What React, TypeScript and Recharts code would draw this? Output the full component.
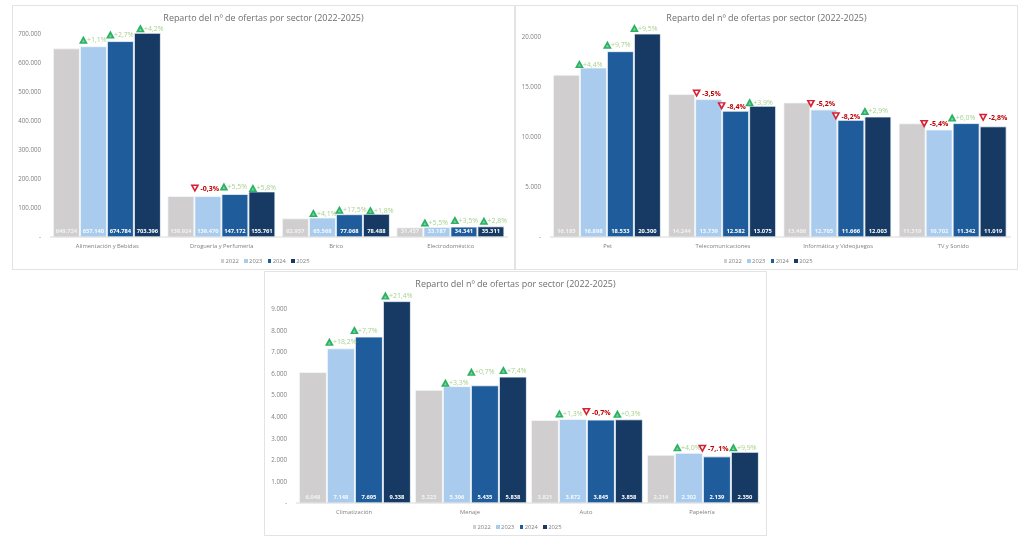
import { Bar, BarChart, LabelList, Legend, XAxis, YAxis } from "recharts";

const years = ["2022", "2023", "2024", "2025"];
const colors = ["#D0CECE", "#A9CBEE", "#1F5C9B", "#163A63"];
const valueColors = ["#F2F2F2", "#F4F8FD", "#FFFFFF", "#FFFFFF"];
const title = "Reparto del nº de ofertas por sector (2022-2025)";

const categoriesA = ["Alimentación y Bebidas", "Droguería y Perfumería", "Brico", "Electrodoméstico"];
const valuesA2022 = [649724, 139924, 62957, 31457];
const valuesA2023 = [657140, 139470, 65568, 33187];
const valuesA2024 = [674784, 147172, 77068, 34341];
const valuesA2025 = [703396, 155761, 78488, 35311];
const changesA2023 = ["+1,1%", "-0,3%", "+4,1%", "+5,5%"];
const changesA2024 = ["+2,7%", "+5,5%", "+17,5%", "+3,5%"];
const changesA2025 = ["+4,2%", "+5,8%", "+1,8%", "+2,8%"];
const ticksA = [0, 100000, 200000, 300000, 400000, 500000, 600000, 700000];

const categoriesB = ["Pet", "Telecomunicaciones", "Informática y Videojuegos", "TV y Sonido"];
const valuesB2022 = [16185, 14244, 13406, 11319];
const valuesB2023 = [16898, 13739, 12705, 10702];
const valuesB2024 = [18533, 12582, 11666, 11342];
const valuesB2025 = [20300, 13075, 12003, 11019];
const changesB2023 = ["+4,4%", "-3,5%", "-5,2%", "-5,4%"];
const changesB2024 = ["+9,7%", "-8,4%", "-8,2%", "+6,0%"];
const changesB2025 = ["+9,5%", "+3,9%", "+2,9%", "-2,8%"];
const ticksB = [0, 5000, 10000, 15000, 20000];

const categoriesC = ["Climatización", "Menaje", "Auto", "Papelería"];
const valuesC2022 = [6048, 5223, 3821, 2214];
const valuesC2023 = [7148, 5396, 3872, 2302];
const valuesC2024 = [7695, 5435, 3845, 2139];
const valuesC2025 = [9338, 5838, 3858, 2350];
const changesC2023 = ["+18,2%", "+3,3%", "+1,3%", "+4,0%"];
const changesC2024 = ["+7,7%", "+0,7%", "-0,7%", "-7,.1%"];
const changesC2025 = ["+21,4%", "+7,4%", "+0,3%", "+9,9%"];
const ticksC = [0, 1000, 2000, 3000, 4000, 5000, 6000, 7000, 8000, 9000];

// hand placement of the change badges: [dx from bar left, dy from default]
const badgeNudge: Record<string, [number, number]> = {
  "Alimentación y Bebidas|2023": [3, 0],
  "Alimentación y Bebidas|2024": [3, 0],
  "Alimentación y Bebidas|2025": [6, 2],
  "Droguería y Perfumería|2023": [0, -1],
  "Droguería y Perfumería|2024": [2, -1],
  "Droguería y Perfumería|2025": [4, 3],
  "Brico|2023": [4, 2],
  "Brico|2024": [3, 2],
  "Brico|2025": [7, 3],
  "Electrodoméstico|2023": [1, 2],
  "Electrodoméstico|2024": [4, 0],
  "Electrodoméstico|2025": [6, 1],
  "Pet|2023": [-1, 3],
  "Pet|2024": [0, 0],
  "Pet|2025": [0, 1],
  "Telecomunicaciones|2023": [1, 1],
  "Telecomunicaciones|2024": [-1, 2],
  "Telecomunicaciones|2025": [0, 3],
  "Informática y Videojuegos|2023": [0, 1],
  "Informática y Videojuegos|2024": [-2, 3],
  "Informática y Videojuegos|2025": [0, 1],
  "TV y Sonido|2023": [-2, 1],
  "TV y Sonido|2024": [-1, 1],
  "TV y Sonido|2025": [3, -2],
  "Climatización|2023": [2, 0],
  "Climatización|2024": [-1, 0],
  "Climatización|2025": [2, 1],
  "Menaje|2023": [2, 3],
  "Menaje|2024": [0, -7],
  "Menaje|2025": [4, 0],
  "Auto|2023": [0, 1],
  "Auto|2024": [-1, -1],
  "Auto|2025": [2, 1],
  "Papelería|2023": [2, 1],
  "Papelería|2024": [-1, -1],
  "Papelería|2025": [2, 2],
};

const font = "'Open Sans', sans-serif";

const fmt = (n: number) =>
  n === 0 ? "-" : String(n).replace(/\B(?=(\d{3})+$)/g, ".");

const buildRows = (
  names: string[],
  values: number[][],
  changes: string[][],
) =>
  names.map((name, i) => ({
    name,
    y2022: values[0][i],
    y2023: values[1][i],
    y2024: values[2][i],
    y2025: values[3][i],
    c2023: changes[0][i],
    c2024: changes[1][i],
    c2025: changes[2][i],
  }));

const makeChangeLabel = (names: string[], year: string) => (props: any) => {
  const { x, y, value, index } = props;
  const up = String(value).startsWith("+");
  const [dx, dy] = badgeNudge[`${names[index]}|${year}`] ?? [0, 0];
  const cx = x + dx;
  const top = y - 11 + dy;
  const outer = up
    ? `${cx},${top} ${cx + 4.4},${top + 8} ${cx - 4.4},${top + 8}`
    : `${cx - 4.4},${top} ${cx + 4.4},${top} ${cx},${top + 8}`;
  const inner = up
    ? `${cx},${top + 3.6} ${cx + 1.5},${top + 6.6} ${cx - 1.5},${top + 6.6}`
    : `${cx - 1.7},${top + 1.4} ${cx + 1.7},${top + 1.4} ${cx},${top + 4.6}`;
  return (
    <g>
      <polygon points={outer} fill={up ? "#2BB163" : "#D81F33"} />
      <polygon points={inner} fill={up ? "#7CD39B" : "#FFFFFF"} />
      <text
        x={cx + (up ? 3.5 : 5.5)}
        y={top + 6.5}
        fontFamily={font}
        fontSize={7}
        fontWeight={up ? 400 : 700}
        fill={up ? "#A9D18E" : "#C00000"}
      >
        {value}
      </text>
    </g>
  );
};

const makeValueLabel = (color: string) => (props: any) => {
  const { x, y, width, height, value } = props;
  return (
    <text
      x={x + width / 2}
      y={y + height - 4}
      textAnchor="middle"
      fontFamily={font}
      fontSize={5.8}
      fontWeight={700}
      fill={color}
    >
      {fmt(value)}
    </text>
  );
};

const YearLegend = () => (
  <div
    style={{
      display: "flex",
      justifyContent: "center",
      gap: 5.3,
      paddingLeft: 9,
      fontFamily: font,
      fontSize: 5.8,
      lineHeight: "10px",
      color: "#7F7F7F",
    }}
  >
    {years.map((year, i) => (
      <span key={year} style={{ display: "flex", alignItems: "center", gap: 1.5 }}>
        <span style={{ width: 3.5, height: 3.5, background: colors[i] }} />
        {year}
      </span>
    ))}
  </div>
);

interface PanelProps {
  left: number;
  top: number;
  yMax: number;
  plotLeft: number;
  ticks: number[];
  rows: ReturnType<typeof buildRows>;
}

const W = 503;
const H = 265;

const Panel = ({ left, top, yMax, plotLeft, ticks, rows }: PanelProps) => {
  const names = rows.map((r) => r.name);
  return (
    <div
      style={{
        position: "absolute",
        left,
        top,
        width: W,
        height: H,
        boxSizing: "border-box",
        border: "1px solid #E3E3E3",
        background: "#fff",
      }}
    >
      <div
        style={{
          position: "absolute",
          left: 0,
          right: 0,
          top: 5,
          textAlign: "center",
          fontFamily: font,
          fontSize: 8.95,
          color: "#6E6E6E",
          zIndex: 1,
        }}
      >
        {title}
      </div>
      <BarChart
        width={W - 2}
        height={H - 2}
        data={rows}
        margin={{ top: 8, right: 6, bottom: 14, left: 0 }}
        barCategoryGap={3.4}
        barGap={1}
      >
        <XAxis
          dataKey="name"
          tickLine={false}
          axisLine={{ stroke: "#D9D9D9" }}
          tick={{ fontSize: 5.8, fill: "#7F7F7F", fontFamily: font }}
          tickMargin={1}
          height={18}
          interval={0}
        />
        <YAxis
          type="number"
          width={plotLeft}
          domain={[0, yMax]}
          ticks={ticks}
          tickFormatter={fmt}
          tickLine={false}
          axisLine={false}
          tick={{ fontSize: 6.2, fill: "#7F7F7F", fontFamily: font }}
          tickMargin={3}
        />
        <Legend
          verticalAlign="middle"
          align="center"
          layout="horizontal"
          content={<YearLegend />}
          wrapperStyle={{ top: 250 }}
        />
        {years.map((year, i) => (
          <Bar
            key={year}
            dataKey={`y${year}`}
            name={year}
            fill={colors[i]}
            stroke="#F4F7FB"
            strokeWidth={0.8}
            isAnimationActive={false}
          >
            <LabelList dataKey={`y${year}`} content={makeValueLabel(valueColors[i])} />
            {i > 0 && <LabelList dataKey={`c${year}`} content={makeChangeLabel(names, year)} />}
          </Bar>
        ))}
      </BarChart>
    </div>
  );
};

const rowsA = buildRows(
  categoriesA,
  [valuesA2022, valuesA2023, valuesA2024, valuesA2025],
  [changesA2023, changesA2024, changesA2025],
);
const rowsB = buildRows(
  categoriesB,
  [valuesB2022, valuesB2023, valuesB2024, valuesB2025],
  [changesB2023, changesB2024, changesB2025],
);
const rowsC = buildRows(
  categoriesC,
  [valuesC2022, valuesC2023, valuesC2024, valuesC2025],
  [changesC2023, changesC2024, changesC2025],
);

export default function App() {
  return (
    <div
      style={{
        position: "absolute",
        left: 0,
        top: 0,
        width: 1024,
        height: 540,
        background: "#fff",
        overflow: "hidden",
        filter: "blur(0.4px)",
      }}
    >
      <Panel left={12} top={5} yMax={770000} plotLeft={37} ticks={ticksA} rows={rowsA} />
      <Panel left={515} top={5} yMax={22300} plotLeft={34} ticks={ticksB} rows={rowsB} />
      <Panel left={264} top={271} yMax={10340} plotLeft={31} ticks={ticksC} rows={rowsC} />
    </div>
  );
}
